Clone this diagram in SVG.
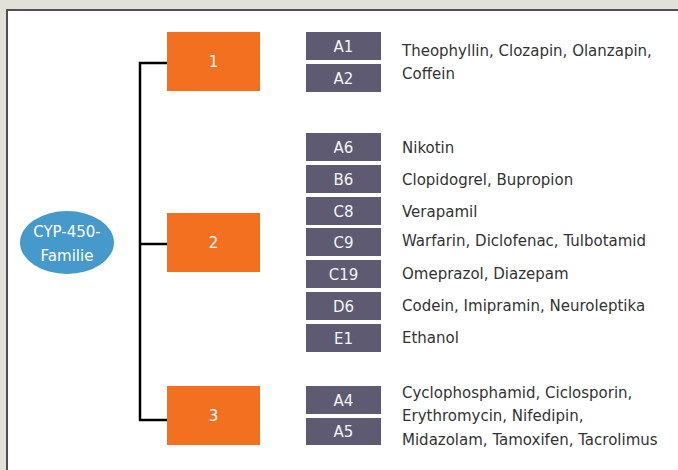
<svg xmlns="http://www.w3.org/2000/svg" width="678" height="470" viewBox="0 0 678 470">
<style>
text{font-family:"DejaVu Sans","Liberation Sans",sans-serif;font-size:15px}
.bg{fill:#e1e1d9}
.panel{fill:#ffffff;stroke:#4f4f55;stroke-width:2}
.fam{fill:#f37021}
.sub{fill:#5d5a72}
.lbl{fill:#f4f4f8;text-anchor:middle}
.famt{fill:#ffffff;text-anchor:middle}
.drug{fill:#333333}
.root{fill:#4699cb}
.conn{fill:none;stroke:#000000;stroke-width:2.5}
</style>
<rect class="bg" x="0" y="0" width="678" height="470"/>
<rect class="panel" x="7" y="10" width="700" height="500"/>
<g id="connectors">
<path class="conn" d="M167 63 H140 V420 H167"/>
<path class="conn" d="M140 244 H167"/>
</g>
<g id="root">
<ellipse class="root" cx="67" cy="242.5" rx="47" ry="31.5"/>
<text class="famt" x="67" y="237.3">CYP-450-</text>
<text class="famt" x="67" y="261">Familie</text>
</g>
<g id="fam1">
<rect class="fam" x="167" y="32" width="93" height="59"/>
<text class="famt" x="213.5" y="67">1</text>
</g>
<g id="fam2">
<rect class="fam" x="167" y="213" width="93" height="59"/>
<text class="famt" x="213.5" y="248">2</text>
</g>
<g id="fam3">
<rect class="fam" x="167" y="386" width="93" height="59"/>
<text class="famt" x="213.5" y="421">3</text>
</g>
<g id="g1">
<rect class="sub" x="306" y="32" width="75" height="28"/><text class="lbl" x="343.5" y="51.5">A1</text>
<rect class="sub" x="306" y="64" width="75" height="28"/><text class="lbl" x="343.5" y="83.5">A2</text>
<text class="drug" x="402" y="55.8">Theophyllin, Clozapin, Olanzapin,</text>
<text class="drug" x="402" y="79.4">Coffein</text>
</g>
<g id="g2">
<rect class="sub" x="306" y="133" width="75" height="28"/><text class="lbl" x="343.5" y="152.5">A6</text><text class="drug" x="402" y="152.5">Nikotin</text>
<rect class="sub" x="306" y="165" width="75" height="28"/><text class="lbl" x="343.5" y="184.5">B6</text><text class="drug" x="402" y="184.5">Clopidogrel, Bupropion</text>
<rect class="sub" x="306" y="197" width="75" height="28"/><text class="lbl" x="343.5" y="216.5">C8</text><text class="drug" x="402" y="216.5">Verapamil</text>
<rect class="sub" x="306" y="228" width="75" height="28"/><text class="lbl" x="343.5" y="247.5">C9</text><text class="drug" x="402" y="245.5">Warfarin, Diclofenac, Tulbotamid</text>
<rect class="sub" x="306" y="260" width="75" height="28"/><text class="lbl" x="343.5" y="279.5">C19</text><text class="drug" x="402" y="278.5">Omeprazol, Diazepam</text>
<rect class="sub" x="306" y="292" width="75" height="28"/><text class="lbl" x="343.5" y="311.5">D6</text><text class="drug" x="402" y="310.5">Codein, Imipramin, Neuroleptika</text>
<rect class="sub" x="306" y="324" width="75" height="28"/><text class="lbl" x="343.5" y="343.5">E1</text><text class="drug" x="402" y="342.5">Ethanol</text>
</g>
<g id="g3">
<rect class="sub" x="306" y="386" width="75" height="28"/><text class="lbl" x="343.5" y="405.5">A4</text>
<rect class="sub" x="306" y="418" width="75" height="27"/><text class="lbl" x="343.5" y="437">A5</text>
<text class="drug" x="402" y="397.5">Cyclophosphamid, Ciclosporin,</text>
<text class="drug" x="402" y="421">Erythromycin, Nifedipin,</text>
<text class="drug" x="402" y="444.5">Midazolam, Tamoxifen, Tacrolimus</text>
</g>
</svg>
